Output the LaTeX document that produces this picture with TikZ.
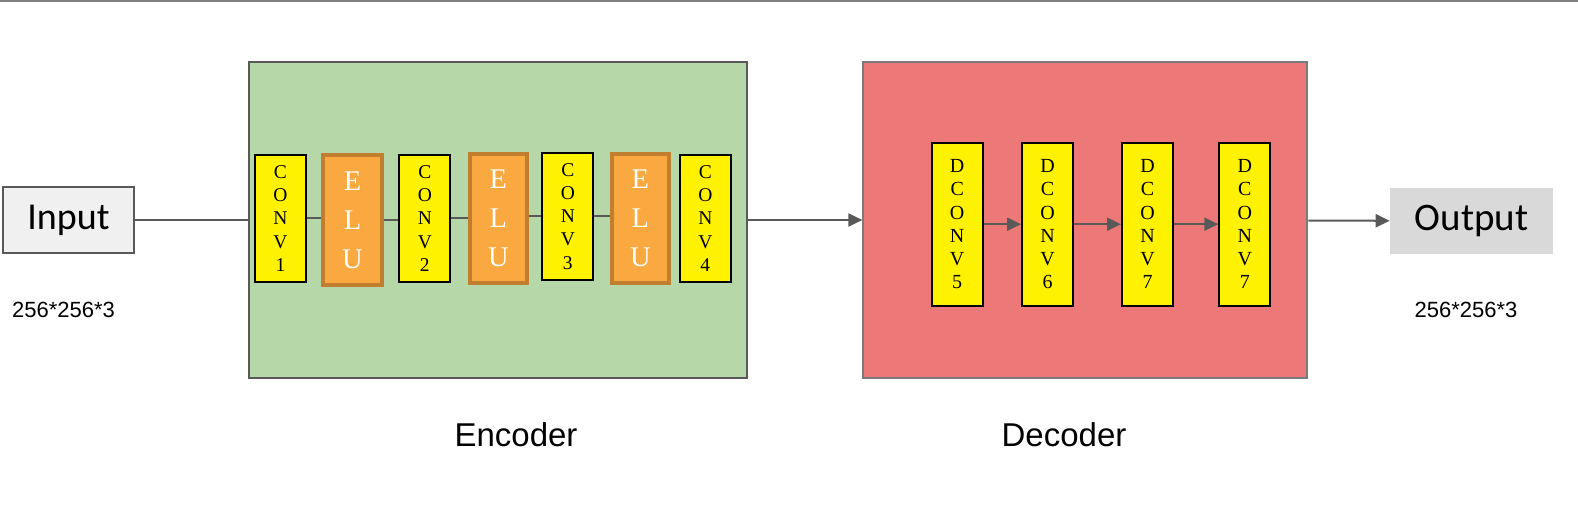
\documentclass[tikz,border=0pt]{standalone}
\usepackage{fontspec}
\setmainfont{Liberation Serif}
\setsansfont{Liberation Sans}
\newfontfamily\calib{Carlito}
\usepackage{xcolor}
\usetikzlibrary{arrows.meta}
\definecolor{encgreen}{RGB}{182,215,168}
\definecolor{decred}{RGB}{237,120,120}
\definecolor{eluorange}{RGB}{250,168,64}
\definecolor{eluedge}{RGB}{192,126,46}
\definecolor{edge}{RGB}{89,89,89}
\tikzstyle{part}=[draw=edge, line width=2pt]
\tikzstyle{conv}=[draw=black, line width=2pt, fill=yellow, inner sep=0pt, align=center, minimum width=51pt, minimum height=127pt, font=\fontsize{19.5}{23.3}\selectfont]
\tikzstyle{elu}=[draw=eluedge, line width=3.5pt, fill=eluorange, text=white, inner sep=0pt, align=center, minimum width=57pt, minimum height=127pt, font=\fontsize{28.5}{39}\selectfont]
\tikzstyle{dconv}=[draw=black, line width=2pt, fill=yellow, inner sep=0pt, align=center, minimum width=51pt, minimum height=163pt, font=\fontsize{20}{23.2}\selectfont]
\tikzstyle{conn}=[draw=edge, line width=2pt]
\tikzstyle{conn>}=[conn, -{Triangle[length=14pt,width=13pt]}]

\begin{document}
\begin{tikzpicture}[x=1pt,y=-1pt]
\useasboundingbox (0,0) rectangle (1578,532);
\draw[gray, line width=2pt] (0,1) -- (1578,1);
% encoder and decoder frames
\node[part, fill=encgreen, minimum width=498pt, minimum height=315pt] (enc) at (497.7,220) {};
\node[part, fill=decred, draw=edge!80, minimum width=444pt, minimum height=315pt] (dec) at (1085.4,220) {};
% input / output
\node[draw=edge, line width=2pt, fill=black!6, minimum width=131pt, minimum height=66pt, font=\calib\fontsize{38}{40}\selectfont] (in) at (68.5,220) {Input};
\node[fill=black!15, minimum width=163pt, minimum height=66pt, font=\calib\fontsize{39}{41}\selectfont] (out) at (1471.4,221) {Output};
\node[font=\sffamily\fontsize{22}{24}\selectfont] (insize) at (63.5,310) {256*256*3};
\node[font=\sffamily\fontsize{22}{24}\selectfont] (outsize) at (1466,310) {256*256*3};
\node[font=\sffamily\fontsize{33}{36}\selectfont] (enclabel) at (516,434.5) {Encoder};
\node[font=\sffamily\fontsize{33}{36}\selectfont] (declabel) at (1064,434.5) {Decoder};
% encoder blocks
\node[conv] (conv1) at (280.4,218.3) {C\\O\\N\\V\\1};
\node[elu, minimum width=59pt, minimum height=130pt] (elu1) at (352.5,220) {E\\L\\U};
\node[conv] (conv2) at (424.8,218.3) {C\\O\\N\\V\\2};
\node[elu, minimum height=129pt] (elu2) at (498.3,218.3) {E\\L\\U};
\node[conv] (conv3) at (567.8,216.3) {C\\O\\N\\V\\3};
\node[elu, minimum height=129pt] (elu3) at (640.3,218.7) {E\\L\\U};
\node[conv] (conv4) at (705.3,218.3) {C\\O\\N\\V\\4};
\draw[conn] (conv1.east) -- (conv1.east -| elu1.west);
\draw[conn] (elu1.east) -- (elu1.east -| conv2.west);
\draw[conn] (conv2.east) -- (conv2.east -| elu2.west);
\draw[conn] (conv3.west -| elu2.east) -- (conv3.west);
\draw[conn] (conv3.east) -- (conv3.east -| elu3.west);
% decoder blocks
\foreach \i/\x/\t in {5/957.2/5,6/1047.5/6,7/1147.5/7,8/1244.8/7} {
	\node[dconv] (d\i) at (\x,224.2) {D\\C\\O\\N\\V\\\t};
}
\foreach \a/\b in {5/6,6/7,7/8} {
	\draw[conn>] (d\a) -- (d\b);
}
% main flow
\draw[conn] (in) -- (enc);
\draw[conn>] (enc) -- (dec);
\draw[conn>] (dec) -- (out);
\end{tikzpicture}
\end{document}
